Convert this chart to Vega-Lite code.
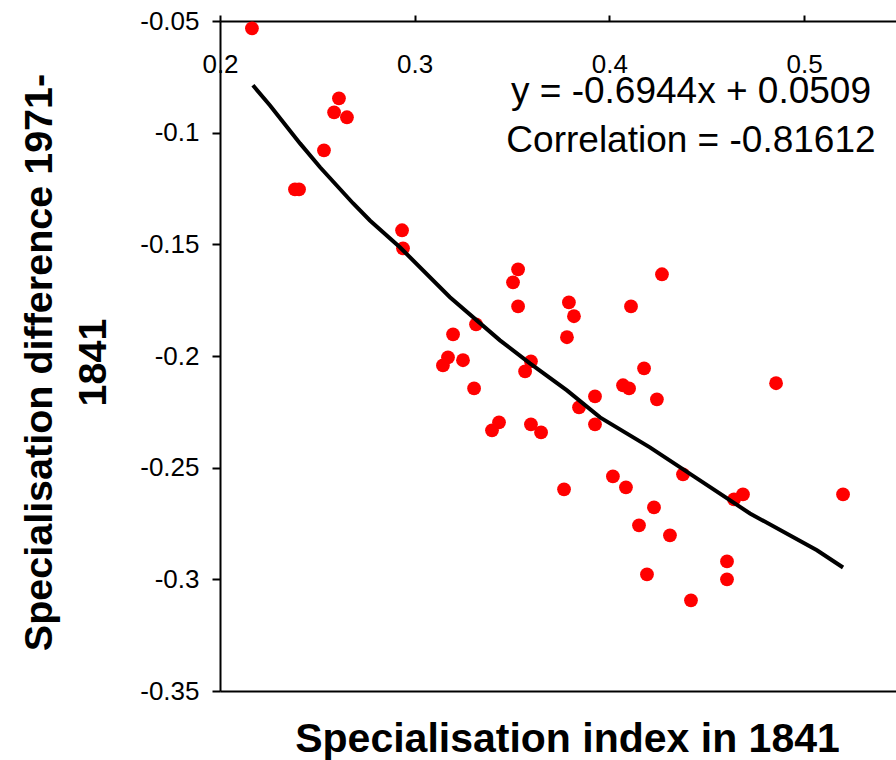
{
  "$schema": "https://vega.github.io/schema/vega-lite/v6.json",
  "width": 676,
  "height": 670,
  "autosize": {"type": "none"},
  "padding": {"left": 220, "top": 21, "right": 0, "bottom": 69},
  "background": "white",
  "config": {
    "view": {"stroke": null},
    "font": "Liberation Sans",
    "axis": {"grid": false, "domainColor": "black", "tickColor": "black", "labelColor": "black", "titleColor": "black", "domainWidth": 2, "tickWidth": 2}
  },
  "datasets": {
    "points": [
      {"x": 0.2164, "y": -0.0533}, {"x": 0.2611, "y": -0.0846}, {"x": 0.2586, "y": -0.0909}, {"x": 0.2652, "y": -0.0931},
      {"x": 0.2534, "y": -0.1079}, {"x": 0.2385, "y": -0.1254}, {"x": 0.2406, "y": -0.1254}, {"x": 0.2935, "y": -0.1437},
      {"x": 0.2940, "y": -0.1518}, {"x": 0.3531, "y": -0.1612}, {"x": 0.3505, "y": -0.1670}, {"x": 0.3531, "y": -0.1778},
      {"x": 0.3792, "y": -0.1760}, {"x": 0.3818, "y": -0.1822}, {"x": 0.3782, "y": -0.1916}, {"x": 0.4111, "y": -0.1778},
      {"x": 0.4270, "y": -0.1634}, {"x": 0.3315, "y": -0.1858}, {"x": 0.3197, "y": -0.1903}, {"x": 0.3171, "y": -0.2006},
      {"x": 0.3145, "y": -0.2042}, {"x": 0.3248, "y": -0.2019}, {"x": 0.3597, "y": -0.2024}, {"x": 0.3567, "y": -0.2069},
      {"x": 0.3305, "y": -0.2145}, {"x": 0.4178, "y": -0.2055}, {"x": 0.4070, "y": -0.2131}, {"x": 0.4101, "y": -0.2145},
      {"x": 0.3926, "y": -0.2181}, {"x": 0.4244, "y": -0.2194}, {"x": 0.3844, "y": -0.2230}, {"x": 0.3926, "y": -0.2306},
      {"x": 0.3433, "y": -0.2297}, {"x": 0.3397, "y": -0.2333}, {"x": 0.3597, "y": -0.2306}, {"x": 0.3649, "y": -0.2342},
      {"x": 0.4856, "y": -0.2122}, {"x": 0.3767, "y": -0.2597}, {"x": 0.4018, "y": -0.2539}, {"x": 0.4085, "y": -0.2588},
      {"x": 0.4378, "y": -0.2530}, {"x": 0.4229, "y": -0.2678}, {"x": 0.4152, "y": -0.2758}, {"x": 0.4311, "y": -0.2803},
      {"x": 0.4640, "y": -0.2642}, {"x": 0.4686, "y": -0.2620}, {"x": 0.5200, "y": -0.2620}, {"x": 0.4604, "y": -0.2920},
      {"x": 0.4604, "y": -0.3000}, {"x": 0.4193, "y": -0.2978}, {"x": 0.4419, "y": -0.3094}
    ],
    "curve": [
      {"x": 0.2169, "y": -0.0788}, {"x": 0.2257, "y": -0.0878}, {"x": 0.2411, "y": -0.1048}, {"x": 0.2514, "y": -0.1155},
      {"x": 0.2683, "y": -0.1316}, {"x": 0.2770, "y": -0.1393}, {"x": 0.2924, "y": -0.1513}, {"x": 0.3181, "y": -0.1737},
      {"x": 0.3438, "y": -0.1930}, {"x": 0.3592, "y": -0.2033}, {"x": 0.3782, "y": -0.2154}, {"x": 0.3952, "y": -0.2275},
      {"x": 0.4208, "y": -0.2409}, {"x": 0.4465, "y": -0.2557}, {"x": 0.4722, "y": -0.2705}, {"x": 0.5066, "y": -0.2870},
      {"x": 0.5200, "y": -0.2947}
    ],
    "notes": [
      {"x": 0.4419, "y": -0.0869, "label": "y = -0.6944x + 0.0509"},
      {"x": 0.4419, "y": -0.1088, "label": "Correlation = -0.81612"}
    ]
  },
  "layer": [
    {
      "data": {"name": "points"},
      "mark": {"type": "circle", "color": "#ff0000", "opacity": 1, "size": 190},
      "encoding": {
        "x": {
          "field": "x", "type": "quantitative",
          "scale": {"domain": [0.2, 0.5472], "nice": false, "zero": false},
          "axis": {"orient": "top", "values": [0.2, 0.3, 0.4, 0.5], "format": ".1f", "labelFontSize": 26, "labelPadding": -57, "tickSize": 6, "labelBaseline": "alphabetic", "labelFlush": false, "labelBound": false, "title": null}
        },
        "y": {
          "field": "y", "type": "quantitative",
          "scale": {"domain": [-0.35, -0.05], "nice": false, "zero": false},
          "axis": {
            "values": [-0.35, -0.3, -0.25, -0.2, -0.15, -0.1, -0.05],
            "labelExpr": "datum.value < 0 ? '-' + format(-datum.value, '~g') : format(datum.value, '~g')",
            "labelFontSize": 26, "tickSize": 8, "labelPadding": 13,
            "titleFontSize": 39.5, "titleFontWeight": "bold", "titleLineHeight": 54, "titlePadding": 26, "titleY": 341
          },
          "title": ["Specialisation difference 1971-", "1841"]
        }
      }
    },
    {
      "data": {"name": "curve"},
      "mark": {"type": "line", "color": "black", "strokeWidth": 4},
      "encoding": {
        "x": {
          "field": "x", "type": "quantitative",
          "axis": {"orient": "bottom", "labels": false, "ticks": false, "title": "Specialisation index in 1841", "titleFontSize": 41, "titleFontWeight": "bold", "titlePadding": 28, "titleX": 347}
        },
        "y": {"field": "y", "type": "quantitative", "title": ["Specialisation difference 1971-", "1841"]}
      }
    },
    {
      "data": {"name": "notes"},
      "mark": {"type": "text", "fontSize": 37, "align": "center", "baseline": "alphabetic", "color": "black"},
      "encoding": {
        "x": {"field": "x", "type": "quantitative", "axis": null},
        "y": {"field": "y", "type": "quantitative", "title": ["Specialisation difference 1971-", "1841"]},
        "text": {"field": "label"}
      }
    }
  ],
  "resolve": {"axis": {"x": "independent"}}
}
